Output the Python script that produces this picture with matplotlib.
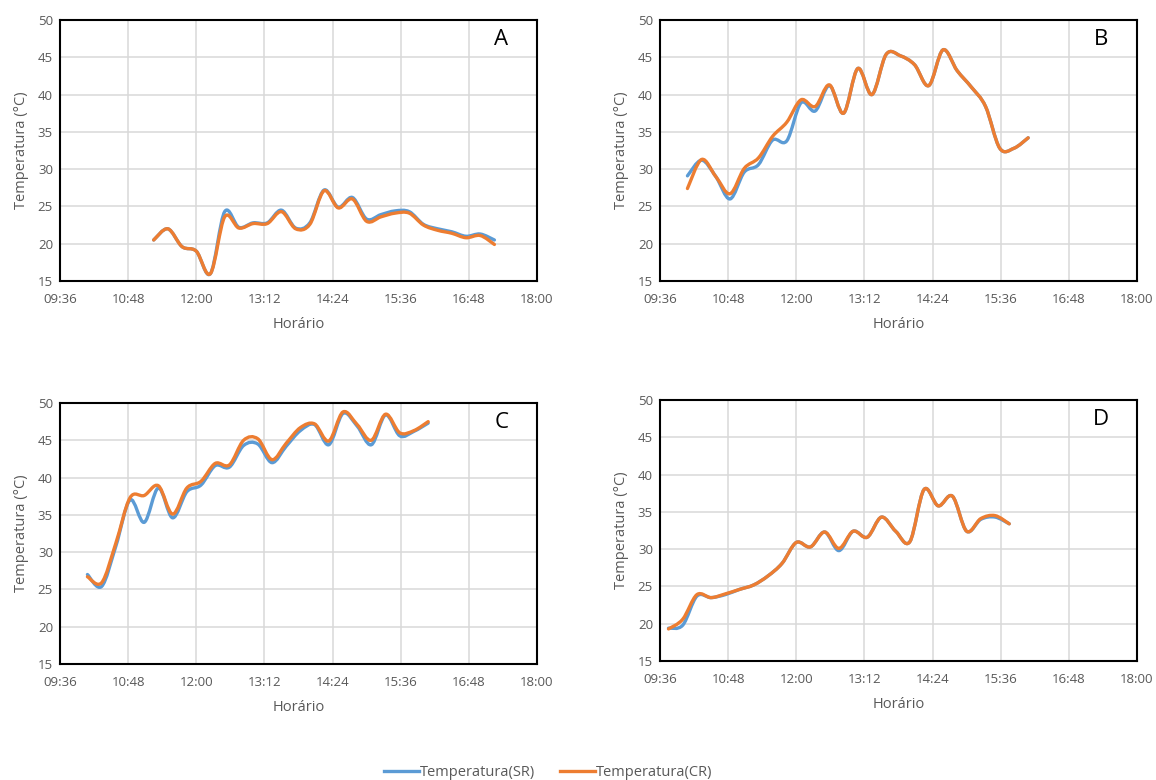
import matplotlib
matplotlib.use("Agg")
import matplotlib.pyplot as plt
import numpy as np
from matplotlib.path import Path
from matplotlib.patches import PathPatch
from matplotlib.lines import Line2D
from matplotlib.ticker import FuncFormatter

# horarios de inicio (leituras a cada 15 min)
inicio_A = "11:15"
inicio_B = "10:05"
inicio_C = "10:05"
inicio_D = "09:45"
passo_min = 15

# Temperatura (SR) e (CR) de cada painel
sr_A = [20.5, 22.0, 19.6, 19.0, 16.0, 24.3, 22.2, 22.8, 22.8, 24.5, 22.1, 22.8, 27.2,
        24.9, 26.2, 23.3, 23.9, 24.4, 24.3, 22.6, 22.0, 21.6, 21.0, 21.3, 20.5]
cr_A = [20.5, 22.0, 19.6, 19.0, 16.0, 23.6, 22.1, 22.7, 22.7, 24.3, 22.0, 22.6, 27.1,
        24.8, 26.0, 23.0, 23.6, 24.1, 24.1, 22.5, 21.8, 21.4, 20.8, 21.1, 19.9]

sr_B = [29.1, 31.2, 29.0, 26.0, 29.6, 30.6, 33.9, 33.8, 38.9, 37.8, 41.2, 37.5, 43.5,
        40.0, 45.4, 45.2, 44.0, 41.2, 46.0, 43.2, 41.0, 38.4, 32.8, 32.8, 34.2]
cr_B = [27.4, 31.3, 29.0, 26.7, 30.1, 31.5, 34.4, 36.3, 39.3, 38.4, 41.3, 37.5, 43.5,
        40.0, 45.4, 45.2, 44.0, 41.2, 46.0, 43.2, 41.0, 38.4, 32.8, 32.8, 34.2]

sr_C = [27.0, 25.4, 30.8, 37.0, 34.0, 38.6, 34.6, 38.1, 39.0, 41.6, 41.4, 44.3, 44.5,
        42.0, 44.2, 46.3, 47.1, 44.4, 48.6, 46.9, 44.4, 48.4, 45.6, 46.2, 47.3]
cr_C = [26.7, 25.9, 31.2, 37.3, 37.6, 38.9, 35.1, 38.6, 39.5, 41.9, 41.7, 45.0, 45.2,
        42.4, 44.6, 46.7, 47.2, 44.9, 48.8, 47.1, 45.0, 48.5, 46.0, 46.3, 47.5]

sr_D = [19.4, 19.8, 23.7, 23.5, 23.9, 24.6, 25.2, 26.4, 28.1, 30.9, 30.3, 32.3, 29.8,
        32.4, 31.6, 34.3, 32.4, 31.0, 38.0, 35.8, 37.1, 32.4, 34.0, 34.3, 33.4]
cr_D = [19.3, 20.6, 23.9, 23.5, 24.0, 24.6, 25.2, 26.4, 28.1, 30.9, 30.3, 32.3, 30.1,
        32.4, 31.6, 34.3, 32.4, 31.0, 38.0, 35.8, 37.1, 32.4, 34.1, 34.5, 33.4]

paineis = ["A", "B", "C", "D"]
inicios = [inicio_A, inicio_B, inicio_C, inicio_D]
series_sr = [sr_A, sr_B, sr_C, sr_D]
series_cr = [cr_A, cr_B, cr_C, cr_D]

cor_sr = "#5B9BD5"
cor_cr = "#ED7D31"
cinza = "#595959"

plt.rcParams['font.family'] = ['Open Sans', 'DejaVu Sans']


def minutos(hhmm):
    h, m = hhmm.split(":")
    return int(h) * 60 + int(m)


# linha suavizada como no Excel (bezier tipo Catmull-Rom)
def caminho_suave(x, y):
    pts = np.column_stack([x, y])
    ext = np.vstack([pts[0], pts, pts[-1]])
    verts = [pts[0]]
    codes = [Path.MOVETO]
    for i in range(len(pts) - 1):
        p0, p1, p2, p3 = ext[i], ext[i + 1], ext[i + 2], ext[i + 3]
        verts += [p1 + (p2 - p0) / 6, p2 - (p3 - p1) / 6, p2]
        codes += [Path.CURVE4] * 3
    return Path(verts, codes)


fig = plt.figure(figsize=(11.56, 7.8), dpi=100)

# posicoes [esq, baixo, larg, alt] em fracao da figura
posicoes = [
    [60 / 1156, 1 - 281 / 780, 477 / 1156, 261 / 780],
    [660 / 1156, 1 - 281 / 780, 477 / 1156, 261 / 780],
    [60 / 1156, 1 - 664 / 780, 477 / 1156, 261 / 780],
    [660 / 1156, 1 - 661 / 780, 477 / 1156, 261 / 780],
]

fmt = FuncFormatter(lambda v, p: "%02d:%02d" % (int(v) // 60, int(v) % 60))

for nome, ini, sr, cr, pos in zip(paineis, inicios, series_sr, series_cr, posicoes):
    ax = fig.add_axes(pos)
    t = minutos(ini) + passo_min * np.arange(len(sr))
    ax.add_patch(PathPatch(caminho_suave(t, sr), fill=False, edgecolor=cor_sr,
                           lw=2.4, capstyle='round', joinstyle='round'))
    ax.add_patch(PathPatch(caminho_suave(t, cr), fill=False, edgecolor=cor_cr,
                           lw=2.4, capstyle='round', joinstyle='round'))

    ax.set_xlim(minutos("09:36"), minutos("18:00"))
    ax.set_ylim(15, 50)
    ax.set_xticks(np.arange(minutos("09:36"), minutos("18:00") + 1, 72))
    ax.set_yticks(np.arange(15, 51, 5))
    ax.xaxis.set_major_formatter(fmt)
    ax.grid(True, color="#D9D9D9", lw=1.1)
    ax.set_axisbelow(True)
    ax.tick_params(length=0, labelsize=9.5, colors=cinza)
    ax.tick_params(axis='x', pad=8.5)
    ax.tick_params(axis='y', pad=5)
    for s in ax.spines.values():
        s.set_color("black")
        s.set_linewidth(1.5)
    ax.set_xlabel("Horário", fontsize=10.5, color=cinza, labelpad=8)
    ax.set_ylabel("Temperatura (°C)", fontsize=10.5, color=cinza, labelpad=6)
    ax.text(0.925, 0.925, nome, transform=ax.transAxes, fontsize=16,
            ha='center', va='center', color='black')

handles = [Line2D([], [], color=cor_sr, lw=2.4), Line2D([], [], color=cor_cr, lw=2.4)]
fig.legend(handles, ["Temperatura(SR)", "Temperatura(CR)"], loc='center',
           bbox_to_anchor=(548 / 1156, 1 - 773 / 780), ncol=2, frameon=False,
           fontsize=10.5, handlelength=2.4, handletextpad=0.05, columnspacing=1.7,
           labelcolor=cinza)

fig.savefig("out.png", dpi=100)
